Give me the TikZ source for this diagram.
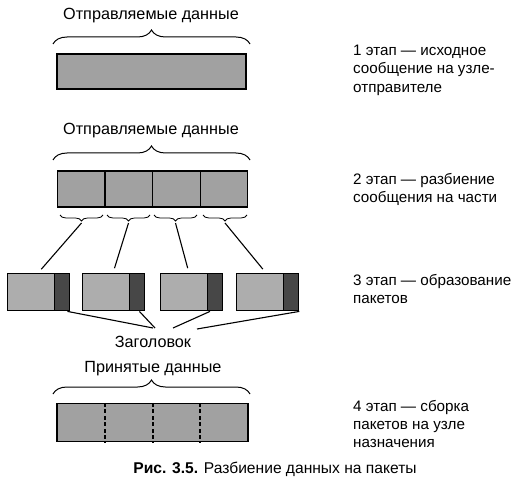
\documentclass[tikz,border=0pt]{standalone}
\usepackage{fontspec}
\setmainfont{Liberation Sans}
\usetikzlibrary{decorations.pathreplacing}
\tikzset{
  databox/.style={draw=black, line width=1.4pt, fill=black!37, inner sep=0pt},
  hdrbox/.style={draw=black, line width=1.4pt, fill=black!72, inner sep=0pt, minimum width=15pt, minimum height=37pt},
  pktbox/.style={draw=black, line width=1.4pt, fill=black!32, inner sep=0pt, minimum width=47pt, minimum height=37pt},
  bigbrace/.style={decorate, decoration={brace, amplitude=14pt}, line width=1pt},
  smallbrace/.style={decorate, decoration={brace, amplitude=6pt, mirror}, line width=0.8pt},
  lbl/.style={font=\fontsize{16.2}{19}\selectfont, inner sep=0pt, anchor=base},
  stage/.style={font=\fontsize{15.2}{18.3}\selectfont, inner sep=0pt, anchor=north west, align=left},
  conn/.style={line width=1.1pt}
}
\begin{document}
\begin{tikzpicture}[x=1pt,y=-1pt]
\useasboundingbox (0,0) rectangle (532,489);
% stage 1
\node[lbl] (l1) at (151,20) {Отправляемые данные};
\draw[bigbrace] (53,44) -- (250,44);
\node[databox, minimum width=189pt, minimum height=35pt] (b1) at (151.5,71.5) {};
% stage 2
\node[lbl] (l2) at (151,135) {Отправляемые данные};
\draw[bigbrace] (53,160) -- (250,160);
\foreach \i/\x in {1/81,2/129,3/176.5,4/224}{
  \node[databox, minimum width=47.5pt, minimum height=36pt] (s\i) at (\x,189) {};
}
\draw[smallbrace] (60,215) -- (103,215);
\draw[smallbrace] (107,215) -- (150,215);
\draw[smallbrace] (154,215) -- (197,215);
\draw[smallbrace] (203,215) -- (247,215);
\coordinate (t1) at (81.5,223);
\coordinate (t2) at (128.5,223);
\coordinate (t3) at (175.5,223);
\coordinate (t4) at (225,223);
% stage 3 packets
\foreach \i/\x in {1/7,2/82,3/160,4/236}{
  \node[pktbox, anchor=north west] (p\i) at (\x,273) {};
  \node[hdrbox, anchor=north west] (h\i) at (\x+47,273) {};
}
\coordinate (pc1) at (38,273);
\coordinate (pc2) at (113,273);
\coordinate (pc3) at (189,273);
\coordinate (pc4) at (266,273);
\draw[conn, shorten >=5pt] (t1) -- (pc1);
\draw[conn, shorten >=5pt] (t2) -- (pc2);
\draw[conn, shorten >=5pt] (t3) -- (pc3);
\draw[conn, shorten >=5pt] (t4) -- (pc4);
\node[lbl] (hdr) at (153,347) {Заголовок};
\coordinate (c1) at (153,328);
\coordinate (c2) at (155,328);
\coordinate (c3) at (173,328);
\coordinate (c4) at (197,329);
\draw[conn] ([xshift=-3pt]h1.south east) -- (c1);
\draw[conn] ([xshift=-6pt]h2.south east) -- (c2);
\draw[conn] ([xshift=3pt]h3.south west) -- (c3);
\draw[conn] (h4.south east) -- (c4);
% stage 4
\node[lbl] (l4) at (153,372) {Принятые данные};
\draw[bigbrace] (53,394) -- (250,394);
\node[databox, minimum width=191pt, minimum height=38pt] (b4) at (152.5,422.5) {};
\foreach \x in {105,153,200}{
  \draw[line width=1.2pt, dash pattern=on 4pt off 2.5pt] (b4.north -| \x,0) -- (b4.south -| \x,0);
}
% stage texts
\node[stage] (st1) at (353,45) {1 этап — исходное\\сообщение на узле-\\отправителе};
\node[stage] (st2) at (353,173) {2 этап — разбиение\\сообщения на части};
\node[stage] (st3) at (353,274) {3 этап — образование\\пакетов};
\node[stage] (st4) at (353,400) {4 этап — сборка\\пакетов на узле\\назначения};
% caption
\node[lbl, font=\fontsize{15.6}{18}\selectfont] (cap) at (275,473) {\textbf{Рис. 3.5.} Разбиение данных на пакеты};
\end{tikzpicture}
\end{document}
